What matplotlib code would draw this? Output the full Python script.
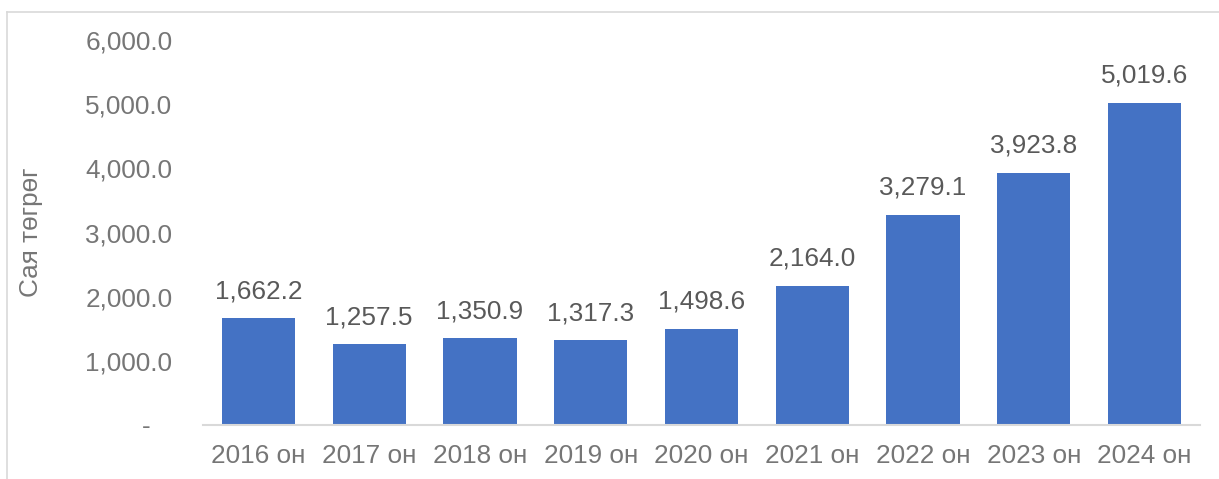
import matplotlib.pyplot as plt
from matplotlib.lines import Line2D
from matplotlib.ticker import FuncFormatter

plt.rcParams['font.family'] = ['Liberation Sans', 'DejaVu Sans']

years = ["2016 он", "2017 он", "2018 он", "2019 он", "2020 он",
         "2021 он", "2022 он", "2023 он", "2024 он"]
values = [1662.2, 1257.5, 1350.9, 1317.3, 1498.6, 2164.0, 3279.1, 3923.8, 5019.6]
y_ticks = [0, 1000, 2000, 3000, 4000, 5000, 6000]

fig = plt.figure(figsize=(12.19, 4.79), dpi=100)
ax = fig.add_axes([203 / 1219, 54 / 479, 997 / 1219, 385 / 479])

x = range(len(years))
bars = ax.bar(x, values, width=0.66, color="#4472C4")

for rect, v in zip(bars, values):
    ax.annotate(f"{v:,.1f}", (rect.get_x() + rect.get_width() / 2, v),
                xytext=(0, 11), textcoords="offset points",
                ha="center", va="bottom", fontsize=18.8, color="#595959")

ax.set_xlim(-0.5, len(years) - 0.5)
ax.set_ylim(0, 6000)
ax.set_yticks(y_ticks)
ax.yaxis.set_major_formatter(FuncFormatter(lambda v, p: "-   " if v == 0 else f"{v:,.1f}"))
ax.set_xticks(list(x))
ax.set_xticklabels(years)
ax.tick_params(axis="y", length=0, pad=22, labelsize=18.8, labelcolor="#767676")
ax.tick_params(axis="x", length=0, pad=14, labelsize=18.8, labelcolor="#767676")

for s in ["top", "right", "left"]:
    ax.spines[s].set_visible(False)
ax.spines["bottom"].set_color("#D9D9D9")
ax.spines["bottom"].set_linewidth(1.5)

ax.set_ylabel("Сая төгрөг", fontsize=18.8, color="#767676")
ax.yaxis.set_label_coords(-160 / 997, 0.5)

# chart border (partly visible)
fig.add_artist(Line2D([7 / 1219, 1], [1 - 12 / 479, 1 - 12 / 479],
                      transform=fig.transFigure, color="#D9D9D9", lw=1.2))
fig.add_artist(Line2D([7 / 1219, 7 / 1219], [0, 1 - 12 / 479],
                      transform=fig.transFigure, color="#D9D9D9", lw=1.2))

fig.savefig("out.png", dpi=100)
